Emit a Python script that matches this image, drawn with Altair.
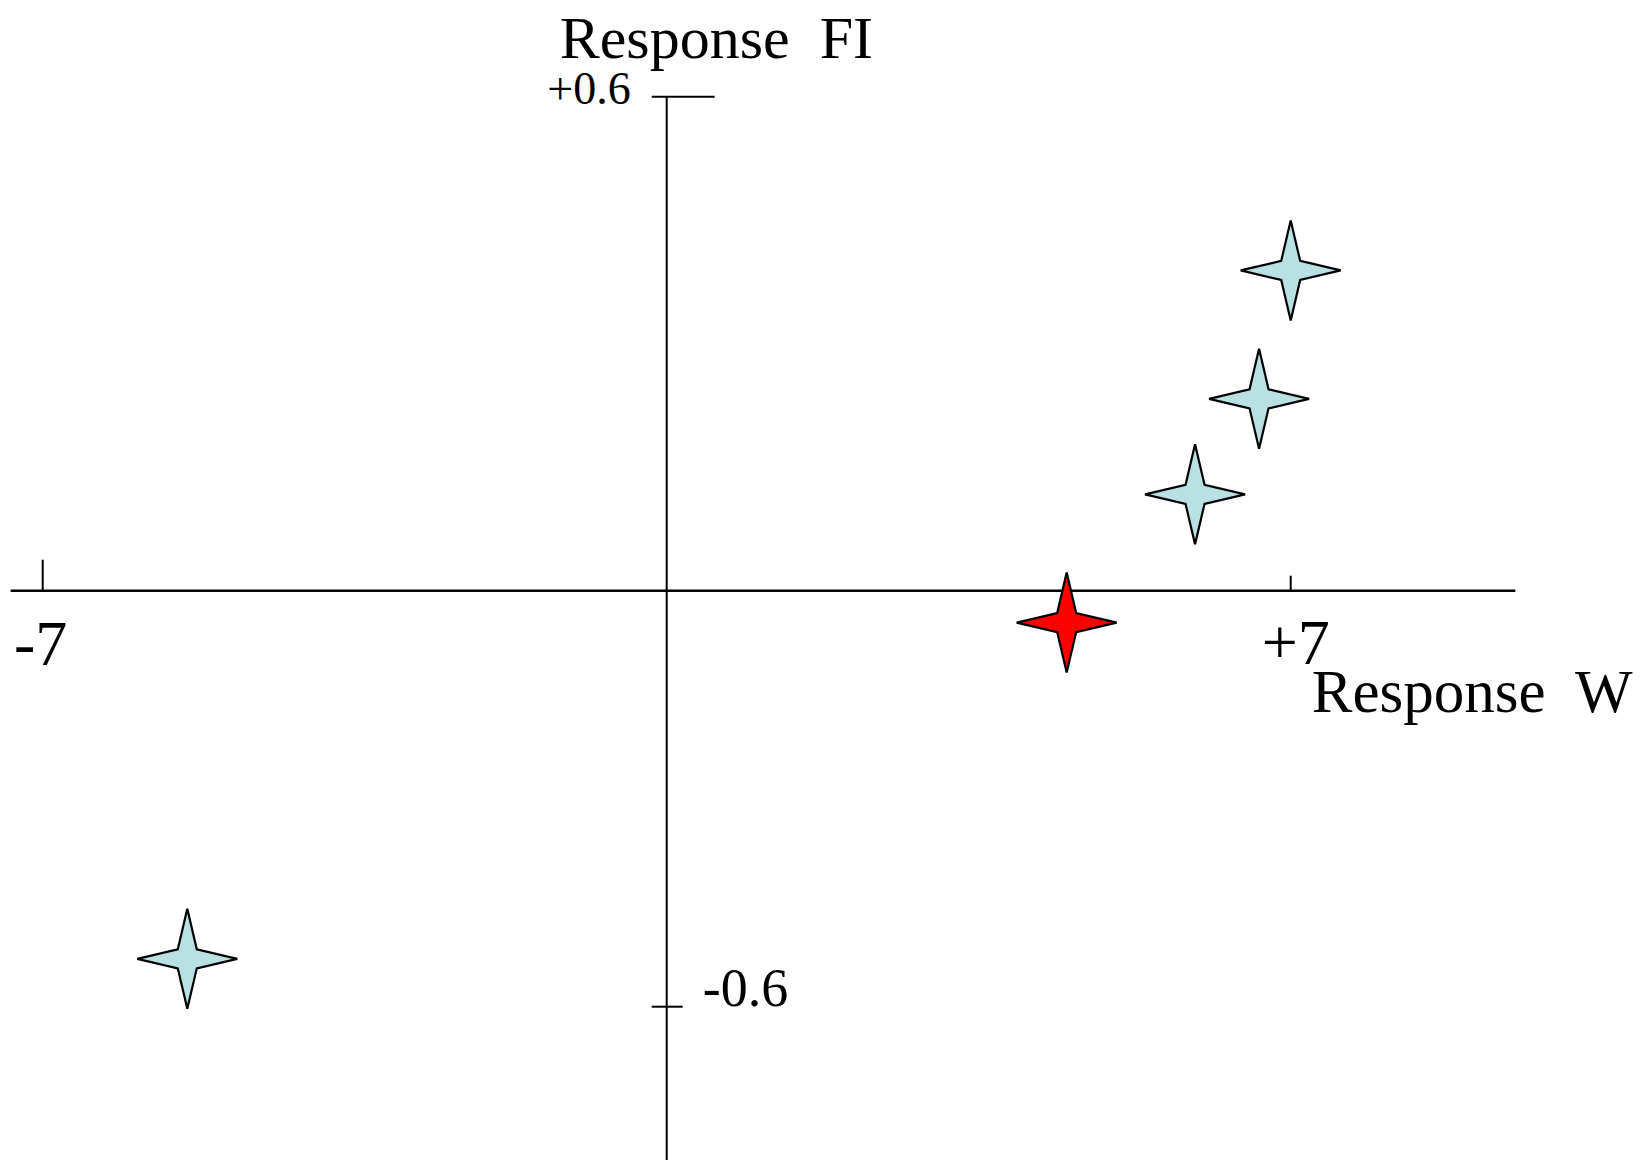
import altair as alt
import pandas as pd

# ---- data ----
star_w = [7.0, 6.645, 5.927, 4.487, -5.378]
star_fi = [0.389, 0.233, 0.117, -0.046, -0.531]
star_group = ["other", "other", "other", "highlight", "other"]

x_tick_values = [-7, 7]
x_tick_labels = ["-7", "+7"]
y_tick_values = [0.6, -0.6]
y_tick_labels = ["+0.6", "-0.6"]

x_axis_extent = [-7.36, 9.52]
y_axis_extent = [-0.85, 0.6]

x_title = "Response\u00a0 W"
y_title = "Response\u00a0 FI"

group_names = ["other", "highlight"]
group_colors = ["#b9e0e3", "#ff0000"]

FONT = "Liberation Serif"
W, H = 1627, 1152

xs = alt.Scale(domain=[-7, 7], range=[34.7, 1282.7], nice=False, zero=False)
ys = alt.Scale(domain=[-0.6, 0, 0.6], range=[998.7, 582.7, 88.7], nice=False, zero=False)

STAR = "M0,-1 L0.19,-0.19 L1,0 L0.19,0.19 L0,1 L-0.19,0.19 L-1,0 L-0.19,-0.19 Z"

stars = pd.DataFrame({"w": star_w, "fi": star_fi, "g": star_group})

x_axis_df = pd.DataFrame({"x": [x_axis_extent[0]], "x2": [x_axis_extent[1]], "y": [0.0]})
y_axis_df = pd.DataFrame({"x": [0.0], "y": [y_axis_extent[0]], "y2": [y_axis_extent[1]]})

def xtick_df(i):
    return pd.DataFrame({"x": [x_tick_values[i]], "y": [0.0], "t": [x_tick_labels[i]]})

def ytick_df(i):
    return pd.DataFrame({"x": [0.0], "y": [y_tick_values[i]], "t": [y_tick_labels[i]]})

X = lambda f="x": alt.X(f"{f}:Q", scale=xs, axis=None)
Y = lambda f="y": alt.Y(f"{f}:Q", scale=ys, axis=None)

base_rule = dict(color="black")

x_axis = alt.Chart(x_axis_df).mark_rule(strokeWidth=2.5, **base_rule).encode(
    x=X(), x2="x2:Q", y=Y())
y_axis = alt.Chart(y_axis_df).mark_rule(strokeWidth=2, **base_rule).encode(
    x=X(), y=Y(), y2="y2:Q")

# x ticks (pointing upward)
xt0 = alt.Chart(xtick_df(0)).mark_rule(strokeWidth=2, y2Offset=-31, **base_rule).encode(
    x=X(), y=Y(), y2="y:Q")
xt1 = alt.Chart(xtick_df(1)).mark_rule(strokeWidth=2, y2Offset=-15, **base_rule).encode(
    x=X(), y=Y(), y2="y:Q")
# y ticks (horizontal)
yt0 = alt.Chart(ytick_df(0)).mark_rule(strokeWidth=2, xOffset=-15, x2Offset=48, **base_rule).encode(
    x=X(), x2="x:Q", y=Y())
yt1 = alt.Chart(ytick_df(1)).mark_rule(strokeWidth=2, xOffset=-15, x2Offset=16, **base_rule).encode(
    x=X(), x2="x:Q", y=Y())

# tick labels
xl0 = alt.Chart(xtick_df(0)).mark_text(font=FONT, fontSize=64, align="center",
    baseline="alphabetic", dx=-2, dy=74, color="black").encode(x=X(), y=Y(), text="t:N")
xl1 = alt.Chart(xtick_df(1)).mark_text(font=FONT, fontSize=64, align="center",
    baseline="alphabetic", dx=5, dy=73, color="black").encode(x=X(), y=Y(), text="t:N")
yl0 = alt.Chart(ytick_df(0)).mark_text(font=FONT, fontSize=46, align="right",
    baseline="alphabetic", dx=-36, dy=7, color="black").encode(x=X(), y=Y(), text="t:N")
yl1 = alt.Chart(ytick_df(1)).mark_text(font=FONT, fontSize=54, align="left",
    baseline="alphabetic", dx=36, dy=-1, color="black").encode(x=X(), y=Y(), text="t:N")

# axis titles
xtitle = alt.Chart(pd.DataFrame({"x": [x_tick_values[1]], "y": [0.0], "t": [x_title]})).mark_text(
    font=FONT, fontSize=61, align="left", baseline="alphabetic", dx=21, dy=121, color="black"
).encode(x=X(), y=Y(), text="t:N")
ytitle = alt.Chart(pd.DataFrame({"x": [0.0], "y": [y_tick_values[0]], "t": [y_title]})).mark_text(
    font=FONT, fontSize=60, align="left", baseline="alphabetic", dx=-107, dy=-39, color="black"
).encode(x=X(), y=Y(), text="t:N")

points = alt.Chart(stars).mark_point(
    shape=STAR, size=10000, filled=True, stroke="black", strokeWidth=2.2,
    opacity=1, fillOpacity=1, strokeOpacity=1
).encode(
    x=X("w"), y=Y("fi"),
    fill=alt.Fill("g:N", scale=alt.Scale(domain=group_names, range=group_colors), legend=None),
)

chart = alt.layer(
    x_axis, y_axis, xt0, xt1, yt0, yt1, xl0, xl1, yl0, yl1, xtitle, ytitle, points
).properties(
    width=W, height=H, autosize=alt.AutoSizeParams(type="none"), padding=0,
    background="white"
).configure_view(stroke=None)

chart.save("out.html", embed_options={"renderer": "svg", "actions": False})
